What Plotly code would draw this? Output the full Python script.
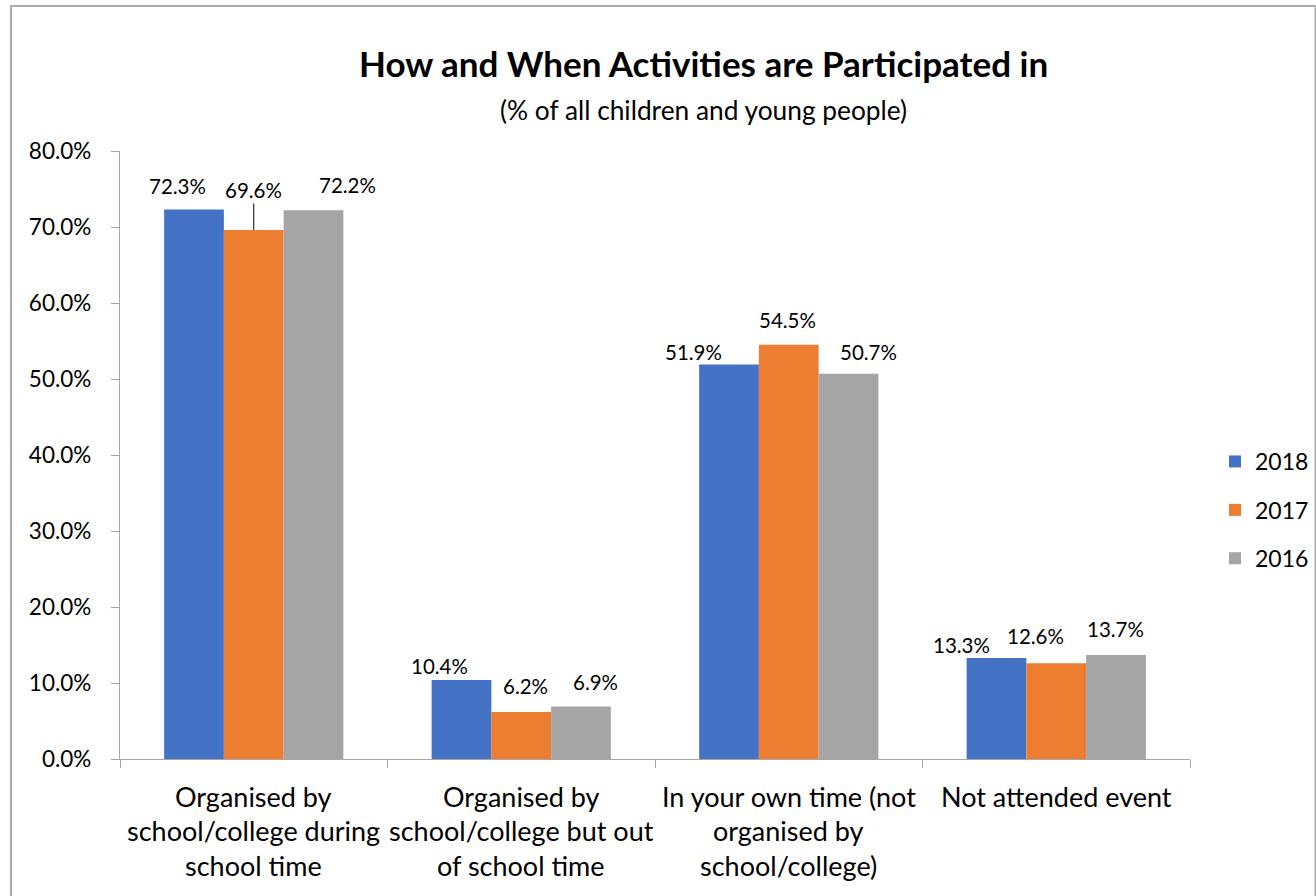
import plotly.graph_objects as go

# chart data
CATEGORIES = [
    "Organised by<br>school/college during<br>school time",
    "Organised by<br>school/college but out<br>of school time",
    "In your own time (not<br>organised by<br>school/college)",
    "Not attended event",
]
YEARS = ["2018", "2017", "2016"]
VALUES_2018 = [72.3, 10.4, 51.9, 13.3]
VALUES_2017 = [69.6, 6.2, 54.5, 12.6]
VALUES_2016 = [72.2, 6.9, 50.7, 13.7]
Y_TICKS = [0, 10, 20, 30, 40, 50, 60, 70, 80]

COLORS = {"2018": "#4472C4", "2017": "#ED7D31", "2016": "#A5A5A5"}
FONT = "Lato"

# label nudges (px) mimicking hand-placed Excel labels: (dx, lift above bar top)
LABEL_NUDGE = {
    "2018": [(-17, 24), (-22, 14), (-36, 13), (-35, 13)],
    "2017": [(0, 40), (4, 26), (-1, 25), (-21, 27)],
    "2016": [(34, 25), (15, 25), (20, 22), (0, 26)],
}
LEADER = {("2017", 0)}  # labels drawn with a leader line

series = {"2018": VALUES_2018, "2017": VALUES_2017, "2016": VALUES_2016}

# plot-area geometry in pixels
W, H = 1316, 896
L, R, T, B = 120, 126, 151, 137
PW, PH = W - L - R, H - T - B
BARGAP = 0.33
BAR_W = (1 - BARGAP) / len(YEARS)

fig = go.Figure()
for year in YEARS:
    fig.add_trace(go.Bar(
        x=CATEGORIES,
        y=series[year],
        name=year,
        legendgroup=year,
        marker=dict(color=COLORS[year], line=dict(width=0)),
    ))

annotations = []
# data labels
for k, year in enumerate(YEARS):
    for i, v in enumerate(series[year]):
        dx, lift = LABEL_NUDGE[year][i]
        xpos = i + (k - 1) * BAR_W
        if (year, i) in LEADER:
            annotations.append(dict(
                x=xpos, y=v, xref="x", yref="y", text=f"{v:.1f}%",
                showarrow=True, arrowhead=0, arrowwidth=1, arrowcolor="#000000",
                ax=dx, ay=-lift, standoff=0,
                font=dict(family=FONT, size=20.5, color="#000000"),
            ))
        else:
            annotations.append(dict(
                x=xpos, y=v, xref="x", yref="y", text=f"{v:.1f}%",
                showarrow=False, xshift=dx, yshift=lift, yanchor="middle",
                font=dict(family=FONT, size=20.5, color="#000000"),
            ))

# category labels, one annotation per line for Excel-like line spacing
for i, cat in enumerate(CATEGORIES):
    for j, line in enumerate(cat.split("<br>")):
        annotations.append(dict(
            x=i, y=0, xref="x", yref="y", text=line, showarrow=False,
            yanchor="middle", yshift=-37 - 34.5 * j,
            font=dict(family=FONT, size=27, color="#000000"),
        ))

# two-line title, placed in plot-area paper coords
annotations.append(dict(
    x=(703 - L) / PW, y=(T + PH - 63) / PH, xref="paper", yref="paper",
    text="<b>How and When Activities are Participated in</b>", showarrow=False,
    yanchor="middle", font=dict(family=FONT, size=35, color="#000000"),
))
annotations.append(dict(
    x=(703 - L) / PW, y=(T + PH - 110) / PH, xref="paper", yref="paper",
    text="(% of all children and young people)", showarrow=False,
    yanchor="middle", font=dict(family=FONT, size=26.3, color="#000000"),
))

fig.update_layout(
    width=W,
    height=H,
    margin=dict(l=L, r=R, t=T, b=B),
    plot_bgcolor="#FFFFFF",
    paper_bgcolor="#FFFFFF",
    font=dict(family=FONT, color="#000000"),
    barmode="group",
    bargap=BARGAP,
    bargroupgap=0,
    showlegend=True,
    legend=dict(
        xref="container", yref="container",
        x=1215 / W, y=1 - 510 / H, xanchor="left", yanchor="middle",
        font=dict(family=FONT, size=23, color="#000000"),
        tracegroupgap=15.5, traceorder="grouped", bgcolor="rgba(0,0,0,0)",
    ),
    annotations=annotations,
    shapes=[dict(
        type="rect", xref="paper", yref="paper",
        x0=(11 - L) / PW, x1=(1315.5 - L) / PW,
        y0=-0.4, y1=(T + PH - 6) / PH,
        line=dict(color="#ABABAB", width=2), fillcolor="rgba(0,0,0,0)", layer="below",
    )],
)

fig.update_xaxes(
    showticklabels=False, automargin=False,
    showline=True, linecolor="#A6A6A6", linewidth=1.3,
    ticks="outside", tickson="boundaries", ticklen=8, tickcolor="#A6A6A6", tickwidth=1.3,
    showgrid=False, zeroline=False,
)
fig.update_yaxes(
    range=[0, 80], automargin=False,
    tickvals=Y_TICKS,
    ticktext=[f"{t:.1f}%" for t in Y_TICKS],
    showline=True, linecolor="#A6A6A6", linewidth=1.3,
    ticks="outside", ticklen=8, tickcolor="#A6A6A6", tickwidth=1.3,
    ticklabelstandoff=15,
    tickfont=dict(family=FONT, size=22.5, color="#000000"),
    showgrid=False, zeroline=False,
)

# drop the default 8px page margin so the figure sits at the window origin
fig.write_html(
    "out.html",
    config={"displayModeBar": False},
    post_script="document.body.style.margin='0';",
)
